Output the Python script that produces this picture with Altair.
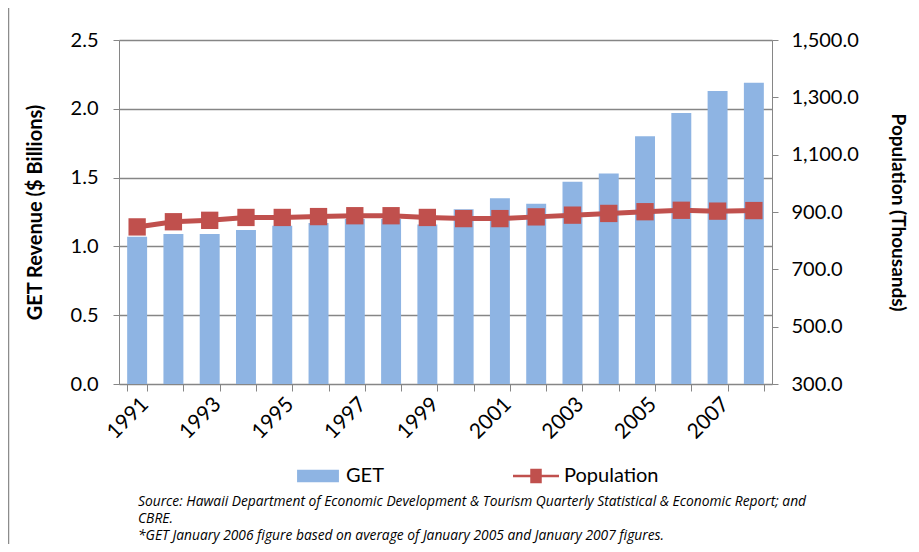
import altair as alt
import pandas as pd

years = [str(y) for y in range(1991, 2009)]
get_revenue = [1.07, 1.09, 1.09, 1.12, 1.15, 1.17, 1.20, 1.20, 1.16, 1.27,
               1.35, 1.31, 1.47, 1.53, 1.80, 1.97, 2.13, 2.19]
population = [848, 866, 871, 881, 881, 884, 887, 887, 881, 877,
              877, 883, 889, 895, 901, 906, 903, 905]
left_ticks = [0.0, 0.5, 1.0, 1.5, 2.0, 2.5]
right_ticks = [300, 500, 700, 900, 1100, 1300, 1500]
series_names = ["GET", "Population"]
series_colors = ["#8EB4E3", "#C0504D"]
footnotes = [
    "Source: Hawaii Department of Economic Development & Tourism Quarterly Statistical & Economic Report; and",
    "CBRE.",
    "*GET January 2006 figure based on average of January 2005 and January 2007 figures.",
]

df = pd.DataFrame({"year": years, "get": get_revenue, "pop": population})

FONT = "Lato"
GREY = "#868686"


def make_legend(x, shape, fill):
    return alt.Legend(
        orient="none", legendX=x, legendY=413, direction="horizontal", title=None,
        labelFont=FONT, labelFontSize=20, labelColor="#000000", labelOffset=5,
        symbolSize=2116, symbolType=shape, symbolFillColor=fill,
        symbolStrokeColor=fill, symbolStrokeWidth=0, symbolOpacity=1, padding=0,
    )


x_enc = alt.X(
    "year:O",
    scale=alt.Scale(paddingInner=0.45),
    axis=alt.Axis(
        title=None, labelAngle=-45, tickBand="extent", tickSize=7,
        labelExpr="parseInt(datum.value) % 2 == 1 ? datum.label : ''",
        labelFont=FONT, labelFontSize=21, labelColor="#000000", labelPadding=2,
        domainColor=GREY, tickColor=GREY, grid=False,
    ),
)

bars = alt.Chart(df).mark_bar().encode(
    x=x_enc,
    y=alt.Y(
        "get:Q",
        scale=alt.Scale(domain=[0, 2.5], nice=False),
        axis=alt.Axis(
            title="GET Revenue ($ Billions)", values=left_ticks, format=".1f",
            labelFont=FONT, labelFontSize=20, labelColor="#000000", labelPadding=15,
            titleFont=FONT, titleFontSize=20, titleFontWeight="bold", titleColor="#000000",
            titlePadding=25, tickSize=6, tickColor=GREY, domainColor=GREY,
            grid=True, gridColor=GREY, gridWidth=1.3,
        ),
    ),
    color=alt.Color(
        "s:N", scale=alt.Scale(domain=series_names[:1], range=series_colors[:1]),
        legend=make_legend(176, "M-0.91,-0.27H0.91V0.27H-0.91Z", series_colors[0]),
    ),
).transform_calculate(s="'GET'")

line = alt.Chart(df).mark_line(
    strokeWidth=5,
    point=alt.OverlayMarkDef(shape="square", size=300, filled=True, opacity=1),
).encode(
    x=x_enc,
    y=alt.Y(
        "pop:Q",
        scale=alt.Scale(domain=[300, 1500], nice=False),
        axis=alt.Axis(
            title="Population (Thousands)", orient="right", values=right_ticks, format=",.1f",
            labelFont=FONT, labelFontSize=20, labelColor="#000000", labelPadding=13,
            titleFont=FONT, titleFontSize=19, titleFontWeight="bold", titleColor="#000000",
            titlePadding=29, tickSize=6, tickColor=GREY, domainColor=GREY, grid=False,
        ),
    ),
    color=alt.Color(
        "s:N", scale=alt.Scale(domain=series_names[1:], range=series_colors[1:]),
        legend=make_legend(394, "M-1,-0.055H1V0.055H-1Z M-0.25,-0.32H0.25V0.32H-0.25Z", series_colors[1]),
    ),
).transform_calculate(s="'Population'")

frame = alt.Chart(pd.DataFrame({"f": [0]})).mark_rect(
    fillOpacity=0, stroke="#8C8C8C", strokeWidth=1.5, clip=False
).encode(x=alt.value(-110.5), x2=alt.value(820), y=alt.value(-36), y2=alt.value(520))

chart = alt.layer(frame, bars, line).resolve_scale(y="independent", color="independent").properties(
    width=653, height=344,
    title=alt.TitleParams(
        text=footnotes, orient="bottom", anchor="start", frame="group",
        font="Open Sans", fontSize=13.8, fontStyle="italic", fontWeight="normal",
        color="#000000", lineHeight=17, dx=19, offset=0, dy=-66,
    ),
    padding={"left": 111, "top": 32, "right": 139, "bottom": 160},
    autosize=alt.AutoSizeParams(type="none"),
).configure_view(stroke=None).configure(background="white")

chart.save("out.html", embed_options={"renderer": "svg", "actions": False})
